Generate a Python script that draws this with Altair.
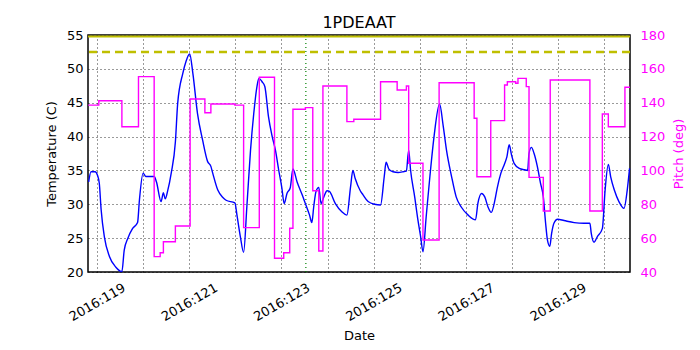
import altair as alt
import pandas as pd

# Temperature (blue) trace: day-of-year vs temperature (C)
temp_day = [118.82, 118.87, 118.96, 119.01, 119.05, 119.09, 119.16, 119.27, 119.41, 119.54,
            119.59, 119.67, 119.77, 119.88, 119.92, 120.00, 120.06, 120.24, 120.29, 120.39,
            120.44, 120.48, 120.53, 120.61, 120.70, 120.75, 120.86, 120.93, 121.01, 121.08,
            121.18, 121.29, 121.40, 121.47, 121.51, 121.62, 121.73, 121.80, 121.99, 122.04,
            122.11, 122.18, 122.25, 122.33, 122.40, 122.47, 122.51, 122.58, 122.64, 122.72,
            122.80, 122.87, 122.94, 123.01, 123.06, 123.12, 123.19, 123.25, 123.34, 123.45,
            123.52, 123.61, 123.66, 123.70, 123.75, 123.81, 123.86, 123.92, 123.99, 124.04,
            124.17, 124.31, 124.42, 124.50, 124.55, 124.60, 124.71, 124.77, 124.88, 125.02,
            125.15, 125.23, 125.27, 125.33, 125.42, 125.53, 125.64, 125.71, 125.76, 125.80,
            125.89, 125.96, 126.02, 126.07, 126.14, 126.22, 126.31, 126.43, 126.51, 126.58,
            126.69, 126.79, 126.90, 127.05, 127.21, 127.26, 127.34, 127.41, 127.48, 127.55,
            127.63, 127.68, 127.76, 127.84, 127.89, 127.94, 127.99, 128.05, 128.16, 128.27,
            128.34, 128.37, 128.42, 128.48, 128.55, 128.62, 128.68, 128.73, 128.77, 128.82,
            128.86, 128.91, 128.99, 129.13, 129.35, 129.56, 129.69, 129.72, 129.78, 129.85,
            129.96, 130.02, 130.09, 130.14, 130.22, 130.32, 130.43, 130.50, 130.55]
temp_val = [33.3, 34.8, 34.8, 34.3, 33.1, 29.2, 25.2, 22.3, 20.7, 20.05,
            23.2, 25.0, 26.4, 27.3, 30.6, 34.6, 34.1, 34.1, 33.3, 30.4,
            31.7, 30.8, 31.9, 34.6, 39.2, 44.9, 49.3, 51.1, 52.2, 49.3,
            43.4, 39.5, 36.3, 35.6, 34.6, 32.1, 31.0, 30.6, 30.2, 28.2,
            25.2, 22.9, 29.6, 38.0, 43.4, 47.4, 48.6, 48.1, 47.4, 42.9,
            40.0, 38.0, 35.1, 32.4, 30.1, 31.6, 32.4, 35.2, 33.3, 31.4,
            30.1, 28.4, 27.3, 29.6, 31.9, 32.5, 30.1, 31.1, 32.0, 31.9,
            30.1, 28.9, 28.4, 32.6, 35.0, 33.8, 32.0, 31.4, 30.4, 30.0,
            29.9, 34.1, 36.2, 35.2, 34.8, 34.7, 34.8, 34.9, 38.0, 35.1,
            31.1, 27.7, 25.2, 23.0, 28.2, 34.1, 40.0, 44.8, 41.5, 38.0,
            34.1, 31.1, 29.6, 28.4, 27.7, 30.1, 31.6, 31.1, 29.6, 28.8,
            30.6, 32.4, 34.6, 36.0, 37.0, 38.8, 37.3, 36.0, 35.3, 35.1,
            35.0, 37.5, 38.4, 37.5, 35.6, 33.1, 31.1, 27.2, 24.7, 23.8,
            25.7, 27.2, 27.8, 27.6, 27.3, 27.2, 27.2, 25.7, 24.4, 25.2,
            26.4, 32.1, 35.9, 34.1, 32.1, 30.4, 29.4, 32.1, 35.3]

# Pitch (magenta) step trace: each value holds from its day to the next
pitch_day = [118.81, 119.04, 119.54, 119.90, 120.24, 120.37, 120.44, 120.70, 121.02, 121.34,
             121.47, 121.99, 122.18, 122.52, 122.85, 123.05, 123.18, 123.25, 123.52, 123.68,
             123.81, 123.90, 124.42, 124.57, 125.15, 125.51, 125.71, 125.76, 126.07, 126.42,
             127.18, 127.24, 127.54, 127.84, 127.90, 128.08, 128.13, 128.31, 128.37, 128.68,
             128.83, 129.69, 129.96, 130.09, 130.45, 130.56]
pitch_val = [138.6, 141.2, 125.8, 155.4, 49.1, 51.4, 57.9, 67.2, 142.2, 134.1,
             139.2, 138.6, 66.2, 155.0, 48.1, 51.4, 65.8, 136.1, 137.1, 88.0,
             52.4, 149.9, 128.8, 130.2, 152.4, 147.5, 149.9, 104.2, 58.9, 151.8,
             130.8, 96.3, 129.4, 150.5, 152.4, 151.5, 154.4, 149.5, 95.9, 76.0,
             153.4, 76.0, 133.3, 125.8, 149.1, 149.1]

caution_temp = [52.5]
limit_temp = [55.0]
marker_day = [123.53]

x_ticks = list(range(119, 131))
temp_ticks = [20, 25, 30, 35, 40, 45, 50, 55]
pitch_ticks = [40, 60, 80, 100, 120, 140, 160, 180]

df_t = pd.DataFrame({"day": temp_day, "temp": temp_val})
df_p = pd.DataFrame({"day": pitch_day, "pitch": pitch_val})

x_scale = alt.Scale(domain=[118.805, 130.56], nice=False, zero=False)
x_axis = alt.Axis(
    title="Date", values=x_ticks,
    labelExpr="datum.value % 2 == 1 ? '2016:' + datum.value : ''",
    labelAngle=330, labelAlign="center", labelBaseline="middle",
    labelPadding=30, tickSize=0, domain=False,
    grid=True, gridDash=[1, 3], gridColor="black", gridWidth=0.8, gridOpacity=1,
    titlePadding=6,
)

temp_scale = alt.Scale(domain=[20, 55], nice=False, zero=False)
temp_axis = alt.Axis(
    title="Temperature (C)", values=temp_ticks, tickSize=0, labelPadding=5,
    domain=False, grid=True, gridDash=[1, 3], gridColor="black",
    gridWidth=0.8, gridOpacity=1, titlePadding=8,
)

temp_line = alt.Chart(df_t).mark_line(
    color="blue", strokeWidth=1.4, interpolate="monotone"
).encode(
    x=alt.X("day:Q", scale=x_scale, axis=x_axis),
    y=alt.Y("temp:Q", scale=temp_scale, axis=temp_axis),
)

caution = alt.Chart(pd.DataFrame({"temp": caution_temp})).mark_rule(
    color="#bfbf00", strokeDash=[8, 5], strokeWidth=2.5
).encode(y=alt.Y("temp:Q", scale=temp_scale, axis=temp_axis))

limit = alt.Chart(pd.DataFrame({"temp": limit_temp})).mark_rule(
    color="#bfbf00", strokeWidth=2, yOffset=1.5
).encode(y=alt.Y("temp:Q", scale=temp_scale, axis=temp_axis))

marker = alt.Chart(pd.DataFrame({"day": marker_day})).mark_rule(
    color="green", strokeDash=[1, 3], strokeWidth=1.2
).encode(x=alt.X("day:Q", scale=x_scale, axis=x_axis))

temp_layer = alt.layer(caution, limit, marker, temp_line)

pitch_line = alt.Chart(df_p).mark_line(
    color="magenta", strokeWidth=1.4, interpolate="step-after"
).encode(
    x=alt.X("day:Q", scale=x_scale, axis=x_axis),
    y=alt.Y("pitch:Q", scale=alt.Scale(domain=[40, 180], nice=False, zero=False),
            axis=alt.Axis(title="Pitch (deg)", orient="right", values=pitch_ticks,
                          labelColor="magenta", titleColor="magenta", tickSize=0,
                          labelPadding=10, domain=False, grid=False,
                          titleAngle=270, titleBaseline="top", titlePadding=8)),
)

chart = alt.layer(temp_layer, pitch_line).resolve_scale(y="independent").properties(
    width=542, height=237,
    title=alt.Title("1PDEAAT", fontSize=16, fontWeight="normal", offset=-2,
                    font="DejaVu Sans", color="black"),
    padding={"left": 80, "top": 27, "right": 62, "bottom": 70},
    autosize=alt.AutoSizeParams(type="none"),
).configure(
    font="DejaVu Sans",
).configure_axis(
    labelFont="DejaVu Sans", titleFont="DejaVu Sans", labelFontSize=13,
    titleFontSize=13, titleFontWeight="normal", labelColor="black", titleColor="black",
    labelOverlap=False, labelFlush=False,
).configure_view(
    stroke="black", strokeWidth=1.5,
)

chart.save("out.html", embed_options={"renderer": "svg", "actions": False})
